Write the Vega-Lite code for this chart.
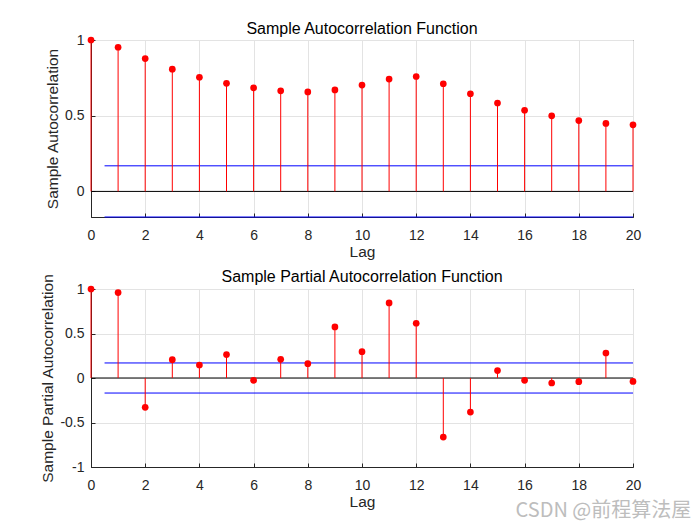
{
  "$schema": "https://vega.github.io/schema/vega-lite/v6.json",
  "padding": {"left": 40, "top": 20, "right": 5, "bottom": 5},
  "background": "white",
  "config": {
    "font": "Liberation Sans",
    "view": {"stroke": "#262626", "strokeWidth": 1},
    "axis": {
      "labelFont": "Liberation Sans",
      "titleFont": "Liberation Sans",
      "labelFontSize": 14,
      "titleFontSize": 15.5,
      "labelColor": "#262626",
      "titleColor": "#262626",
      "titleFontWeight": "normal",
      "domainColor": "#262626",
      "tickColor": "#262626",
      "gridColor": "#e3e3e3",
      "gridOpacity": 1,
      "tickSize": -4,
      "labelFlush": false,
      "labelExpr": "toString(datum.value)"
    },
    "axisX": {"labelPadding": 15, "titlePadding": 2},
    "axisY": {"labelPadding": 11},
    "title": {"font": "Liberation Sans", "fontSize": 16, "fontWeight": "normal", "color": "#000000"}
  },
  "datasets": {
    "corr": [
      {"lag": 0, "acf": 1.0, "pacf": 1.0},
      {"lag": 1, "acf": 0.952, "pacf": 0.96},
      {"lag": 2, "acf": 0.877, "pacf": -0.33},
      {"lag": 3, "acf": 0.807, "pacf": 0.206},
      {"lag": 4, "acf": 0.754, "pacf": 0.146},
      {"lag": 5, "acf": 0.714, "pacf": 0.263},
      {"lag": 6, "acf": 0.684, "pacf": -0.026},
      {"lag": 7, "acf": 0.664, "pacf": 0.21},
      {"lag": 8, "acf": 0.657, "pacf": 0.161},
      {"lag": 9, "acf": 0.67, "pacf": 0.574},
      {"lag": 10, "acf": 0.702, "pacf": 0.296},
      {"lag": 11, "acf": 0.742, "pacf": 0.844},
      {"lag": 12, "acf": 0.759, "pacf": 0.615},
      {"lag": 13, "acf": 0.711, "pacf": -0.664},
      {"lag": 14, "acf": 0.645, "pacf": -0.383},
      {"lag": 15, "acf": 0.584, "pacf": 0.083},
      {"lag": 16, "acf": 0.536, "pacf": -0.026},
      {"lag": 17, "acf": 0.499, "pacf": -0.056},
      {"lag": 18, "acf": 0.468, "pacf": -0.041},
      {"lag": 19, "acf": 0.449, "pacf": 0.281},
      {"lag": 20, "acf": 0.44, "pacf": -0.038}
    ],
    "bounds": [
      {"x1": 0.5, "x2": 20, "b": 0.169},
      {"x1": 0.5, "x2": 20, "b": -0.169}
    ],
    "zero": [
      {"x1": 0, "x2": 20, "z": 0}
    ]
  },
  "title": {
    "text": "CSDN @前程算法屋",
    "orient": "bottom",
    "anchor": "end",
    "font": "Noto Sans CJK SC",
    "fontSize": 20,
    "fontWeight": "normal",
    "color": "#bdbdbd",
    "offset": -9,
    "dx": 50
  },
  "spacing": 8,
  "vconcat": [
    {
      "width": 542,
      "height": 177,
      "title": {"text": "Sample Autocorrelation Function", "offset": -4},
      "layer": [
        {
          "data": {"name": "bounds"},
          "mark": {"type": "rule", "color": "#0000ff", "strokeWidth": 1},
          "encoding": {
            "x": {"field": "x1", "type": "quantitative"},
            "x2": {"field": "x2"},
            "y": {"field": "b", "type": "quantitative"}
          }
        },
        {
          "data": {"name": "zero"},
          "mark": {"type": "rule", "color": "#000000", "strokeWidth": 1},
          "encoding": {
            "x": {"field": "x1", "type": "quantitative"},
            "x2": {"field": "x2"},
            "y": {"field": "z", "type": "quantitative"}
          }
        },
        {
          "data": {"name": "corr"},
          "mark": {"type": "rule", "color": "#ff0000", "strokeWidth": 1},
          "encoding": {
            "x": {"field": "lag", "type": "quantitative"},
            "y": {"field": "acf", "type": "quantitative"},
            "y2": {"datum": 0}
          }
        },
        {
          "data": {"name": "corr"},
          "mark": {"type": "point", "filled": true, "color": "#ff0000", "opacity": 1, "size": 45},
          "encoding": {
            "x": {"field": "lag", "type": "quantitative", "scale": {"domain": [0, 20], "nice": false}, "axis": {"title": "Lag", "values": [0, 2, 4, 6, 8, 10, 12, 14, 16, 18, 20]}},
            "y": {"field": "acf", "type": "quantitative", "scale": {"domain": [-0.169, 1], "nice": false, "zero": false}, "axis": {"title": "Sample Autocorrelation", "values": [0, 0.5, 1], "titlePadding": 4}}
          }
        }
      ]
    },
    {
      "width": 542,
      "height": 178,
      "title": {"text": "Sample Partial Autocorrelation Function", "offset": -12},
      "layer": [
        {
          "data": {"name": "bounds"},
          "mark": {"type": "rule", "color": "#0000ff", "strokeWidth": 1},
          "encoding": {
            "x": {"field": "x1", "type": "quantitative"},
            "x2": {"field": "x2"},
            "y": {"field": "b", "type": "quantitative"}
          }
        },
        {
          "data": {"name": "zero"},
          "mark": {"type": "rule", "color": "#000000", "strokeWidth": 1},
          "encoding": {
            "x": {"field": "x1", "type": "quantitative"},
            "x2": {"field": "x2"},
            "y": {"field": "z", "type": "quantitative"}
          }
        },
        {
          "data": {"name": "corr"},
          "mark": {"type": "rule", "color": "#ff0000", "strokeWidth": 1},
          "encoding": {
            "x": {"field": "lag", "type": "quantitative"},
            "y": {"field": "pacf", "type": "quantitative"},
            "y2": {"datum": 0}
          }
        },
        {
          "data": {"name": "corr"},
          "mark": {"type": "point", "filled": true, "color": "#ff0000", "opacity": 1, "size": 45},
          "encoding": {
            "x": {"field": "lag", "type": "quantitative", "scale": {"domain": [0, 20], "nice": false}, "axis": {"title": "Lag", "values": [0, 2, 4, 6, 8, 10, 12, 14, 16, 18, 20]}},
            "y": {"field": "pacf", "type": "quantitative", "scale": {"domain": [-1, 1], "nice": false}, "axis": {"title": "Sample Partial Autocorrelation", "values": [-1, -0.5, 0, 0.5, 1], "titlePadding": 4}}
          }
        }
      ]
    }
  ]
}
